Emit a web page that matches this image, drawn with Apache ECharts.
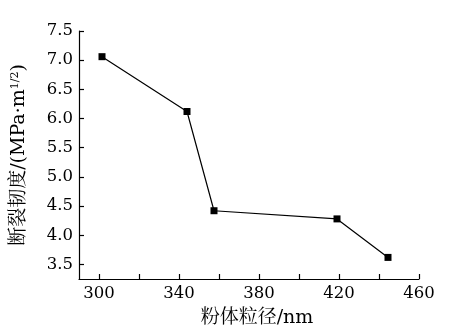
<!DOCTYPE html>
<html><head><meta charset="utf-8">
<script src="https://cdn.jsdelivr.net/npm/echarts@6/dist/echarts.min.js"></script>
<style>html,body{margin:0;padding:0;background:#fff}#c{width:450px;height:333px}</style>
</head><body><div id="c"></div>
<script>
const sizes = [301.5, 344, 357.5, 419, 444.5];
const toughness = [7.06, 6.12, 4.42, 4.28, 3.62];
const xTicks = [300, 320, 340, 360, 380, 400, 420, 440, 460];
const xLabels = [300, 340, 380, 420, 460];
const yTicks = [3.5, 4.0, 4.5, 5.0, 5.5, 6.0, 6.5, 7.0, 7.5];

const font = 'DejaVu Serif, "Noto Serif CJK SC", "Noto Sans CJK SC", serif';
const chart = echarts.init(document.getElementById('c'), null, {renderer: 'canvas'});
chart.setOption({
  animation: false,
  grid: {left: 79, right: 31, top: 31, bottom: 54, containLabel: false},
  xAxis: {
    type: 'value', min: 290, max: 460,
    name: '粉体粒径/nm', nameLocation: 'middle', nameGap: 30,
    nameTextStyle: {fontFamily: font, fontSize: 19, color: '#000', padding: [0, 0, 0, 16]},
    axisLine: {show: true, lineStyle: {color: '#000', width: 1.2}},
    axisTick: {show: true, inside: true, length: 5, customValues: xTicks, lineStyle: {color: '#000', width: 1.2}},
    axisLabel: {customValues: xLabels, fontFamily: font, fontSize: 16.5, color: '#000', margin: 6},
    splitLine: {show: false}
  },
  yAxis: {
    type: 'value', min: 3.25, max: 7.5,
    name: '{a|断裂韧度/(MPa·m}{s|1/2}{a|)}', nameLocation: 'middle', nameGap: 50, nameRotate: 90,
    nameTextStyle: {rich: {
      a: {fontFamily: font, fontSize: 19, color: '#000'},
      s: {fontFamily: font, fontSize: 11, color: '#000', verticalAlign: 'top', padding: [0, 0, 8, 0]}
    }},
    axisLine: {show: true, lineStyle: {color: '#000', width: 1.2}},
    axisTick: {show: true, inside: true, length: 5, customValues: yTicks, lineStyle: {color: '#000', width: 1.2}},
    axisLabel: {customValues: yTicks, fontFamily: font, fontSize: 16.5, color: '#000', margin: 6,
      formatter: v => v.toFixed(1)},
    splitLine: {show: false}
  },
  series: [{
    type: 'line',
    data: sizes.map((x, i) => [x, toughness[i]]),
    symbol: 'rect', symbolSize: 7,
    lineStyle: {color: '#000', width: 1.2},
    itemStyle: {color: '#000'}
  }]
});
</script></body></html>
